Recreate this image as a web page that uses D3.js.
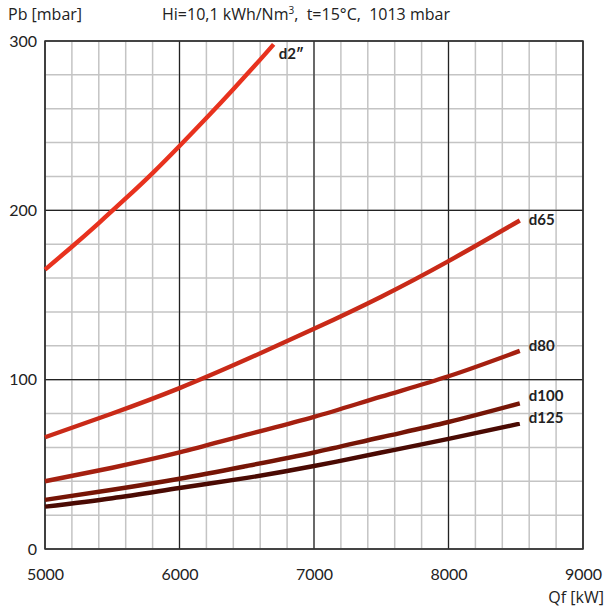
<!DOCTYPE html>
<html><head><meta charset="utf-8">
<script src="https://cdn.jsdelivr.net/npm/d3@7"></script>
<style>body{margin:0;background:#fff}svg{display:block}</style>
</head><body><div id="chart"></div>
<script>
const xTicks = [5000, 6000, 7000, 8000, 9000];
const yTicks = [0, 100, 200, 300];
const seriesNames = ["d2\u2033", "d65", "d80", "d100", "d125"];
const seriesColors = ["#e8321e", "#c92a18", "#a52010", "#761506", "#4a0a03"];
const qD2 = [5000, 5200, 5400, 5600, 5800, 6000, 6200, 6400, 6600, 6700];
const pD2 = [165, 178.5, 192.5, 207, 222, 238, 254.5, 271.5, 289, 298];
const qOther = [5000, 5500, 6000, 6500, 7000, 7500, 8000, 8530];
const pD65 = [66, 80, 95, 112, 130, 149, 170, 194];
const pD80 = [40, 48, 57, 67.5, 78, 90, 102, 117];
const pD100 = [29, 35, 41.5, 49, 57, 66, 75, 86];
const pD125 = [25, 30, 36, 42, 49, 57, 65, 74];
const seriesQ = [qD2, qOther, qOther, qOther, qOther];
const seriesP = [pD2, pD65, pD80, pD100, pD125];

const W = 605, H = 607;
const m = {l: 45, r: 22, t: 41, b: 58};
const svg = d3.select("#chart").append("svg").attr("width", W).attr("height", H)
  .style("font-family", "Lato, sans-serif");
const x = d3.scaleLinear().domain([5000, 9000]).range([m.l, W - m.r]);
const y = d3.scaleLinear().domain([0, 300]).range([H - m.b, m.t]);

const g = svg.append("g");
// minor grid
g.selectAll(".mx").data(d3.range(5000, 9001, 200)).enter().append("line")
  .attr("x1", d => x(d)).attr("x2", d => x(d)).attr("y1", y(0)).attr("y2", y(300))
  .attr("stroke", "#c4c4c4").attr("stroke-width", 1.5);
g.selectAll(".my").data(d3.range(0, 301, 20)).enter().append("line")
  .attr("y1", d => y(d)).attr("y2", d => y(d)).attr("x1", x(5000)).attr("x2", x(9000))
  .attr("stroke", "#c4c4c4").attr("stroke-width", 1.5);
// major grid
g.selectAll(".Mx").data(xTicks).enter().append("line")
  .attr("x1", d => x(d)).attr("x2", d => x(d)).attr("y1", y(0)).attr("y2", y(300))
  .attr("stroke", "#222").attr("stroke-width", 1.2);
g.selectAll(".My").data(yTicks).enter().append("line")
  .attr("y1", d => y(d)).attr("y2", d => y(d)).attr("x1", x(5000)).attr("x2", x(9000))
  .attr("stroke", "#222").attr("stroke-width", 1.2);
g.append("rect").attr("x", x(5000)).attr("y", y(300)).attr("width", x(9000) - x(5000))
  .attr("height", y(0) - y(300)).attr("fill", "none").attr("stroke", "#333").attr("stroke-width", 1.5);

// axes (labels only)
const xAxis = svg.append("g").attr("transform", `translate(0,${y(0)})`)
  .call(d3.axisBottom(x).tickValues(xTicks).tickSize(0).tickPadding(20).tickFormat(d3.format("d")));
xAxis.select(".domain").remove();
xAxis.selectAll("text").attr("font-size", 16).attr("fill", "#222").style("font-family", "Lato, sans-serif");
const yAxis = svg.append("g").attr("transform", `translate(${x(5000)},0)`)
  .call(d3.axisLeft(y).tickValues(yTicks).tickSize(0).tickPadding(8));
yAxis.select(".domain").remove();
yAxis.selectAll("text").attr("font-size", 16).attr("fill", "#222").style("font-family", "Lato, sans-serif");

// curves
const labelDx = [5, 9, 9, 9, 9];
const labelDy = [14.5, 4.5, 0, -2.4, -0.7];
const line = d3.line().x(d => x(d[0])).y(d => y(d[1])).curve(d3.curveNatural);
seriesNames.forEach((name, i) => {
  const pts = seriesQ[i].map((q, j) => [q, seriesP[i][j]]);
  svg.append("path").datum(pts).attr("d", line).attr("fill", "none")
    .attr("stroke", seriesColors[i]).attr("stroke-width", 4.4).attr("stroke-linecap", "butt");
  const last = pts[pts.length - 1];
  svg.append("text").attr("x", x(last[0]) + labelDx[i]).attr("y", y(last[1]) + labelDy[i])
    .attr("font-size", 15).attr("font-weight", "bold").attr("fill", "#222")
    .style("font-family", "Lato, sans-serif").text(name);
});

// titles
const tf = "'Open Sans', sans-serif";
svg.append("text").attr("x", 8).attr("y", 20).attr("font-size", 16).style("font-family", tf).attr("fill", "#222").text("Pb [mbar]");
const t = svg.append("text").attr("x", 162).attr("y", 20).attr("font-size", 16).style("font-family", tf).attr("fill", "#222");
t.append("tspan").text("Hi=10,1 kWh/Nm");
t.append("tspan").attr("font-size", 10).attr("dy", -6).text("3");
t.append("tspan").attr("dy", 6).text(",\u00a0 t=15°C,\u00a0 1013 mbar");
svg.append("text").attr("x", 604).attr("y", 603).attr("text-anchor", "end").attr("font-size", 16).style("font-family", tf).attr("fill", "#222").text("Qf [kW]");
</script></body></html>
